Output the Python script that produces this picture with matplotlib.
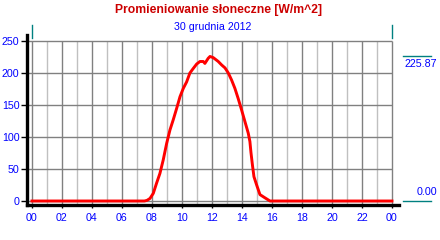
import matplotlib
matplotlib.use("Agg")
import matplotlib.pyplot as plt

# ---- data ----
hours = [0.0, 7.5, 7.67, 7.87, 8.09, 8.31, 8.53, 8.75, 8.98, 9.2, 9.42, 9.65, 9.87,
         10.09, 10.31, 10.53, 10.75, 10.98, 11.2, 11.42, 11.53, 11.75, 11.87,
         12.09, 12.42, 12.65, 12.87, 13.09, 13.31, 13.53, 13.75, 13.98, 14.2,
         14.42, 14.53, 14.6, 14.7, 14.8, 14.98, 15.2, 15.53, 15.87, 24.0]
values = [0, 0, 1, 4, 12, 28, 43, 64, 90, 111, 127, 145, 163,
          176, 186, 200, 207, 214, 218, 218, 215, 223, 225.87,
          224, 218, 212.5, 208, 200, 189, 176, 160, 142, 124,
          106, 93, 76, 56, 38, 25, 10, 5, 0, 0]
peak_value = 225.87
last_value = 0.00
y_ticks = [0, 50, 100, 150, 200, 250]
x_ticks = list(range(0, 25, 2))
x_labels = ["00", "02", "04", "06", "08", "10", "12", "14", "16", "18", "20", "22", "00"]
title = "Promieniowanie słoneczne [W/m^2]"
subtitle = "30 grudnia 2012"

W, H = 440, 240
fig = plt.figure(figsize=(W / 100, H / 100), dpi=100)
fig.patch.set_facecolor("white")
ax = fig.add_axes([27 / W, 35 / H, 372 / W, 170 / H])
ax.set_xlim(-0.33, 24.47)
ax.set_ylim(-6.25, 259.4)

dark = "#808080"
light = "#c0c0c0"
for h in range(0, 25):
    ax.plot([h, h], [-6.25, 250], color=dark if h % 2 == 0 else light, lw=1.0,
            zorder=1, solid_capstyle="butt")
for v in y_ticks:
    ax.plot([-0.33, 24], [v, v], color=dark, lw=1.0, zorder=1, solid_capstyle="butt")

ax.plot(hours, values, color="#ff0000", lw=2.1, zorder=3, solid_joinstyle="round")

for s in ["top", "right"]:
    ax.spines[s].set_visible(False)
for s in ["left", "bottom"]:
    ax.spines[s].set_color("black")
    ax.spines[s].set_linewidth(2.4)

blue = "#0000ff"
ax.set_yticks(y_ticks)
ax.set_yticklabels([str(v) for v in y_ticks])
ax.set_xticks(x_ticks)
ax.set_xticklabels(x_labels)
ax.tick_params(axis="y", length=4.5, width=1, color="black", pad=1,
               labelsize=7.7, labelcolor=blue)
ax.tick_params(axis="x", length=2.5, width=1, color="black", pad=3,
               labelsize=7.7, labelcolor=blue)
for lab in ax.get_xticklabels() + ax.get_yticklabels():
    lab.set_fontfamily("Liberation Sans")

teal = "#008080"
# top markers
for h in (0, 24):
    ax.plot([h, h], [254.7, 275], color=teal, lw=1.0, clip_on=False)
# right side value markers
for v in (peak_value, last_value):
    ax.plot([24.73, 26.6], [v, v], color=teal, lw=1.0, clip_on=False)

fig.text(437 / W, 1 - 64 / H, f"{peak_value:.2f}", color=blue, fontsize=7.7,
         family="Liberation Sans", ha="right", va="center")
fig.text(437 / W, 1 - 192 / H, f"{last_value:.2f}", color=blue, fontsize=7.7,
         family="Liberation Sans", ha="right", va="center")

fig.text(218.5 / W, 1 - 10 / H, title, color="#cc0000", fontsize=8.7,
         fontweight="bold", family="Liberation Sans", ha="center", va="center")
fig.text(212.5 / W, 1 - 26.5 / H, subtitle, color=blue, fontsize=7.7,
         family="Liberation Sans", ha="center", va="center")

fig.savefig("out.png", dpi=100)
